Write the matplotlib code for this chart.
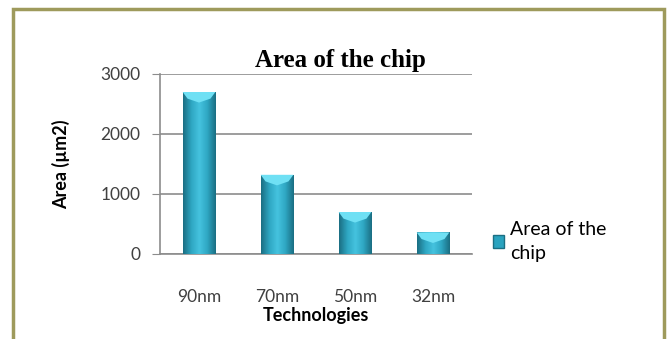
import numpy as np
import matplotlib
matplotlib.use("Agg")
import matplotlib.pyplot as plt
from matplotlib.colors import LinearSegmentedColormap
from matplotlib.patches import Rectangle, Polygon

# data
technologies = ["90nm", "70nm", "50nm", "32nm"]
area = [2700, 1320, 700, 360]
series_name = "Area of the\nchip"

fig = plt.figure(figsize=(6.7, 3.39), dpi=100)
fig.patch.set_facecolor("white")

# outer frame like the spreadsheet chart border
fig.patches.append(Rectangle((13/670, -0.05), (664-13)/670, 1 - 9/339 + 0.05,
                             transform=fig.transFigure, fill=False,
                             edgecolor="#9e9a5c", linewidth=2.5))

ax = fig.add_axes([160/670, 1-254/339, 312/670, 180/339])

x = np.arange(len(technologies))
bars = ax.bar(x, area, width=0.42, color="#2aa3bf", zorder=2)

# cylinder-like shading
cmap = LinearSegmentedColormap.from_list("bar", ["#1b6f83", "#2ea6c2", "#45c3df", "#2ea6c2", "#1b6f83"])
grad = np.linspace(0, 1, 64).reshape(1, -1)
for b in bars:
    x0, w, h = b.get_x(), b.get_width(), b.get_height()
    im = ax.imshow(grad, extent=[x0, x0 + w, 0, h], aspect="auto", cmap=cmap, zorder=3)
    im.set_clip_path(b)
    cap = 110
    ax.add_patch(Polygon([[x0, h], [x0 + w, h], [x0 + w*0.85, h - cap], [x0 + w*0.5, h - cap*1.6], [x0 + w*0.15, h - cap]],
                         closed=True, facecolor="#6fe0f4", edgecolor="none", zorder=4))
    b.set_visible(False)

ax.set_xlim(-0.5, len(technologies) - 0.5)
ax.set_ylim(0, 3000)
ax.set_yticks([0, 1000, 2000, 3000])
ax.set_xticks(x)
ax.set_xticklabels(technologies)
ax.yaxis.grid(True, color="#8c8c8c", linewidth=1.2, zorder=0)
ax.set_axisbelow(True)
for s in ["top", "right"]:
    ax.spines[s].set_visible(False)
for s in ["left", "bottom"]:
    ax.spines[s].set_color("#8c8c8c")
    ax.spines[s].set_linewidth(1.2)
ax.tick_params(axis="y", length=6, color="#8c8c8c", labelsize=12.5, labelcolor="#404040", pad=8)
ax.tick_params(axis="x", length=0, labelsize=12.5, labelcolor="#404040", pad=25)
for lab in ax.get_xticklabels() + ax.get_yticklabels():
    lab.set_family("Lato")

ax.set_xlabel("Technologies", fontsize=13, fontweight="bold", family="Lato", labelpad=2)
ax.set_ylabel("Area (\u00b5m2)", fontsize=13, fontweight="bold", family="Lato", labelpad=22)
fig.text(340/670, 1-60/339, "Area of the chip", ha="center", va="center",
         fontsize=18, fontweight="bold", family="Liberation Serif")

leg = ax.legend([Rectangle((0, 0), 1, 1, facecolor="#2aa3bf", edgecolor="#1b6f83")], [series_name],
                loc="center left", bbox_to_anchor=(1.01, 0.07), frameon=False,
                prop={"family": "Lato", "size": 14}, handlelength=0.6, handleheight=0.6,
                handletextpad=0.3)
for t in leg.get_texts():
    t.set_linespacing(1.5)

fig.savefig("out.png", dpi=100)
